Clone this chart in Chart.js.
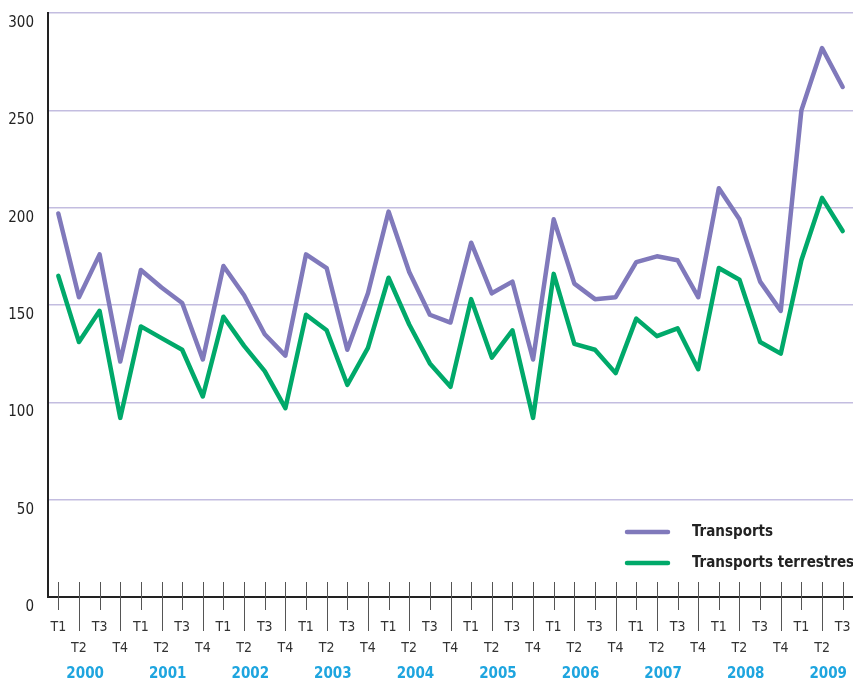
<!DOCTYPE html>
<html><head><meta charset="utf-8">
<script src="https://cdn.jsdelivr.net/npm/chart.js@4/dist/chart.umd.min.js"></script>
<style>html,body{margin:0;padding:0;background:#fff}#wrap{width:853px;height:680px}</style>
</head><body><div id="wrap"><canvas id="c" width="853" height="680"></canvas></div>
<script>
const quarters = ["T1","T2","T3","T4","T1","T2","T3","T4","T1","T2","T3","T4","T1","T2","T3","T4","T1","T2","T3","T4","T1","T2","T3","T4","T1","T2","T3","T4","T1","T2","T3","T4","T1","T2","T3","T4","T1","T2","T3"];
const years = ["2000","2001","2002","2003","2004","2005","2006","2007","2008","2009"];
const transports = [197,154,176,121,168,159,151,122,170,155,135,124,176,169,127,156,198,167,145,141,182,156,162,122,194,161,153,154,172,175,173,154,210,194,162,147,250,282,262];
const terrestres = [165,131,147,92,139,133,127,103,144,129,116,97,145,137,109,128,164,140,120,108,153,123,137,92,166,130,127,115,143,134,138,117,169,163,131,125,173,205,188];
const seriesNames = ["Transports","Transports terrestres"];
const yTicks = [0,50,100,150,200,250,300];

const FONT = '"DejaVu Sans Condensed", "Liberation Sans Narrow", "DejaVu Sans", sans-serif';
const PURPLE = '#8079bb';
const GREEN = '#00a96a';

function noPad(s) { s.paddingLeft = 0; s.paddingRight = 0; s.paddingTop = 0; s.paddingBottom = 0; }

const tickMarks = {
  id: 'tickMarks',
  afterDraw(chart) {
    const xs = chart.scales.x;
    const ctx = chart.ctx;
    const b = chart.chartArea.bottom;
    ctx.save();
    ctx.strokeStyle = '#555';
    ctx.lineWidth = 1;
    xs.ticks.forEach((t, i) => {
      const px = Math.round(xs.getPixelForTick(i)) + 0.5;
      ctx.beginPath();
      ctx.moveTo(px, b - 15);
      ctx.lineTo(px, b + (i % 2 === 0 ? 13 : 34));
      ctx.stroke();
    });
    ctx.restore();
  }
};

const innerLegend = {
  id: 'innerLegend',
  afterDraw(chart) {
    const ctx = chart.ctx;
    ctx.save();
    chart.data.datasets.forEach((ds, i) => {
      const y = 532 + i * 31;
      ctx.strokeStyle = ds.borderColor;
      ctx.lineWidth = 4.5;
      ctx.lineCap = 'round';
      ctx.beginPath();
      ctx.moveTo(627, y);
      ctx.lineTo(668, y);
      ctx.stroke();
      ctx.fillStyle = '#222';
      ctx.font = 'bold 15px ' + FONT;
      ctx.textBaseline = 'middle';
      ctx.textAlign = 'left';
      ctx.fillText(ds.label, 692, y);
    });
    ctx.restore();
  }
};

new Chart(document.getElementById('c'), {
  type: 'line',
  data: {
    labels: quarters,
    datasets: [
      { label: seriesNames[0], data: transports, borderColor: PURPLE, borderWidth: 4.5, pointRadius: 0, tension: 0, borderCapStyle: 'round', borderJoinStyle: 'round', fill: false },
      { label: seriesNames[1], data: terrestres, borderColor: GREEN, borderWidth: 4.5, pointRadius: 0, tension: 0, borderCapStyle: 'round', borderJoinStyle: 'round', fill: false }
    ]
  },
  options: {
    responsive: false,
    animation: false,
    devicePixelRatio: 1,
    layout: { padding: { top: 13, right: 0, left: 0, bottom: 0 } },
    plugins: { legend: { display: false }, tooltip: { enabled: false } },
    scales: {
      x: {
        type: 'category',
        offset: true,
        position: 'bottom',
        grid: { display: false, drawTicks: false },
        border: { display: true, color: '#222', width: 2 },
        ticks: {
          autoSkip: false, maxRotation: 0, minRotation: 0,
          padding: 20,
          color: '#333',
          font: { family: FONT, size: 14, lineHeight: 1.5 },
          callback: (v, i) => i % 2 === 0 ? quarters[i] : ['', quarters[i]]
        },
        afterFit: s => { s.height = 62; noPad(s); }
      },
      years: {
        type: 'linear',
        position: 'bottom',
        min: -0.5, max: 38.5,
        grid: { display: false, drawTicks: false },
        border: { display: false },
        ticks: {
          autoSkip: false, maxRotation: 0,
          padding: 6,
          color: '#1ea5df',
          font: { family: FONT, size: 15, weight: 'bold' },
          callback: (v, i) => years[i]
        },
        afterBuildTicks: s => { s.ticks = years.map((y, i) => ({ value: i * 4 + 1.3 })); },
        afterFit: s => { s.height = 21; noPad(s); }
      },
      y: {
        min: 0, max: 300,
        grid: { color: '#c3bde0', lineWidth: 1.5, drawTicks: false },
        border: { display: true, color: '#222', width: 2 },
        ticks: {
          padding: 14,
          labelOffset: 10,
          color: '#222',
          font: { family: FONT, size: 15 },
          stepSize: 50
        },
        afterBuildTicks: s => { s.ticks = yTicks.map(v => ({ value: v })); },
        afterFit: s => { s.width = 48; noPad(s); }
      }
    }
  },
  plugins: [tickMarks, innerLegend]
});
</script>
</body></html>
